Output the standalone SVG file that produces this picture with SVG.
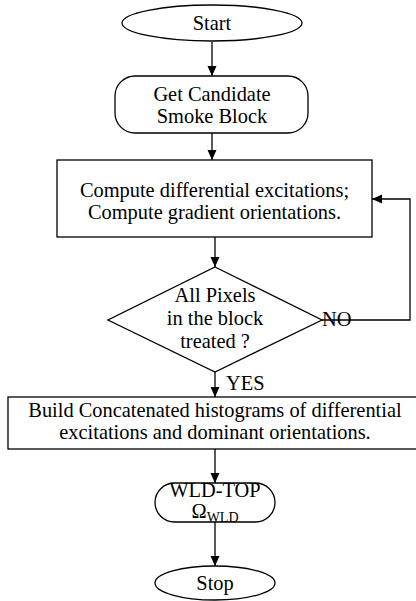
<svg xmlns="http://www.w3.org/2000/svg" width="416" height="601" viewBox="0 0 416 601">
<defs>
<marker id="ah" viewBox="0 0 10 10" refX="10" refY="5" markerWidth="10" markerHeight="10" markerUnits="userSpaceOnUse" orient="auto">
<path d="M0,0.5 L10,5 L0,9.5 z" fill="#000"/>
</marker>
<style>
.s{fill:#fff;stroke:#000;stroke-width:1.3}
.c{fill:none;stroke:#000;stroke-width:1.3;marker-end:url(#ah)}
text{font-family:'Liberation Serif','Times New Roman',serif;font-size:20.4px;fill:#000}
.m{text-anchor:middle}
</style>
</defs>
<rect width="416" height="601" fill="#fff"/>
<g id="connectors">
<path class="c" d="M212,42 V76"/>
<path class="c" d="M212,133 V160"/>
<path class="c" d="M215,237 V267"/>
<path class="c" d="M322,320 H410 V199 H372"/>
<path class="c" d="M215,372 V397"/>
<path class="c" d="M215,449 V483"/>
<path class="c" d="M215,522 V566"/>
</g>
<g id="start">
<ellipse class="s" cx="212" cy="23" rx="90" ry="18"/>
<text class="m" x="212" y="30">Start</text>
</g>
<g id="get-block">
<rect class="s" x="115" y="76" width="193" height="57" rx="20"/>
<text class="m" x="212" y="101">Get Candidate</text>
<text class="m" x="212" y="123">Smoke Block</text>
</g>
<g id="compute">
<rect class="s" x="57" y="160" width="315" height="77"/>
<text class="m" x="214.5" y="197">Compute differential excitations;</text>
<text class="m" x="214.5" y="219">Compute gradient orientations.</text>
</g>
<g id="decision">
<path class="s" d="M215,267 L322,320 L215,372 L108,320 Z"/>
<text class="m" x="215" y="302">All Pixels</text>
<text class="m" x="215" y="325">in the block</text>
<text class="m" x="215" y="348">treated ?</text>
<text x="322" y="326">NO</text>
<text x="226" y="390">YES</text>
</g>
<g id="build">
<rect class="s" x="8" y="397" width="410" height="52"/>
<text class="m" x="215" y="417">Build Concatenated histograms of differential</text>
<text class="m" x="215" y="439">excitations and dominant orientations.</text>
</g>
<g id="wld-top">
<rect class="s" x="155" y="483" width="120" height="39" rx="19.5"/>
<text class="m" x="215" y="497">WLD-TOP</text>
<text class="m" x="215" y="518">Ω<tspan font-size="14" dy="4">WLD</tspan></text>
</g>
<g id="stop">
<ellipse class="s" cx="215" cy="583" rx="60" ry="17"/>
<text class="m" x="215" y="590">Stop</text>
</g>
</svg>
